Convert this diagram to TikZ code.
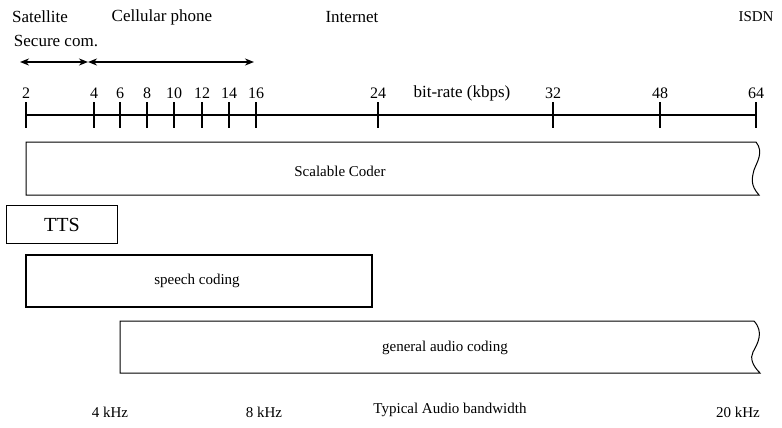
\documentclass[tikz,border=0pt]{standalone}
\usepackage{fontspec}
\setmainfont{Liberation Serif}
\usetikzlibrary{arrows.meta}
\begin{document}
\begin{tikzpicture}[x=1pt, y=-1pt,
  lbl/.style={font=\fontsize{17}{19}\selectfont},
  numlbl/.style={font=\fontsize{16}{18}\selectfont},
  boxtext/.style={font=\fontsize{15}{17}\selectfont},
  spanarrow/.style={line width=1.6pt, {Stealth[length=9pt,width=7pt]}-{Stealth[length=9pt,width=7pt]}}]
  \useasboundingbox (0,0) rectangle (782,428);
  \node[lbl] (sat) at (40,17) {Satellite};
  \node[lbl] (sec) at (56,41) {Secure com.};
  \node[lbl] (cell) at (162,17) {Cellular phone};
  \node[lbl] (inet) at (352,17) {Internet};
  \node[font=\fontsize{15}{17}\selectfont] (isdn) at (756,17) {ISDN};
  \coordinate (r0) at (20,62);
  \coordinate (r1) at (88,62);
  \coordinate (r2) at (254,62);
  \draw[spanarrow] (r0) -- (r1);
  \draw[spanarrow] (r1) -- (r2);
  \coordinate (ax0) at (26,115);
  \coordinate (ax1) at (756,115);
  \draw[line width=1.6pt] (ax0) -- (ax1);
  \foreach \x/\v in {26/2, 94/4, 120/6, 147/8, 174/10, 202/12, 229/14, 256/16, 378/24, 553/32, 660/48, 756/64} {
    \draw[line width=1.6pt] (\x,102) -- (\x,128);
    \node[numlbl] (t\v) at (\x,93) {\v};
  }
  \node[lbl] (rate) at (462,93) {bit-rate (kbps)};
  \draw[line width=1pt] (756,142) -- (26,142) -- (26,195) -- (759,195)
    .. controls (750,185) and (752,178) .. (754,170)
    .. controls (757,162) and (764,152) .. (756,142);
  \node[boxtext] (scal) at (340,171) {Scalable Coder};
  \draw[line width=1pt] (6,205) rectangle (117,243);
  \node[font=\fontsize{20}{22}\selectfont] (tts) at (62,225) {TTS};
  \draw[line width=2pt] (26,255) rectangle (372,307);
  \node[boxtext] (speech) at (197,281) {speech coding};
  \draw[line width=1pt] (754,321) -- (120,321) -- (120,373) -- (760,373)
    .. controls (752,365) and (750,358) .. (753,352)
    .. controls (758,343) and (764,332) .. (754,321);
  \node[boxtext] (audio) at (445,348) {general audio coding};
  \node[boxtext] (k4) at (110,412) {4 kHz};
  \node[boxtext] (k8) at (264,412) {8 kHz};
  \node[boxtext] (band) at (450,410) {Typical Audio bandwidth};
  \node[boxtext] (k20) at (738,412) {20 kHz};
\end{tikzpicture}
\end{document}
